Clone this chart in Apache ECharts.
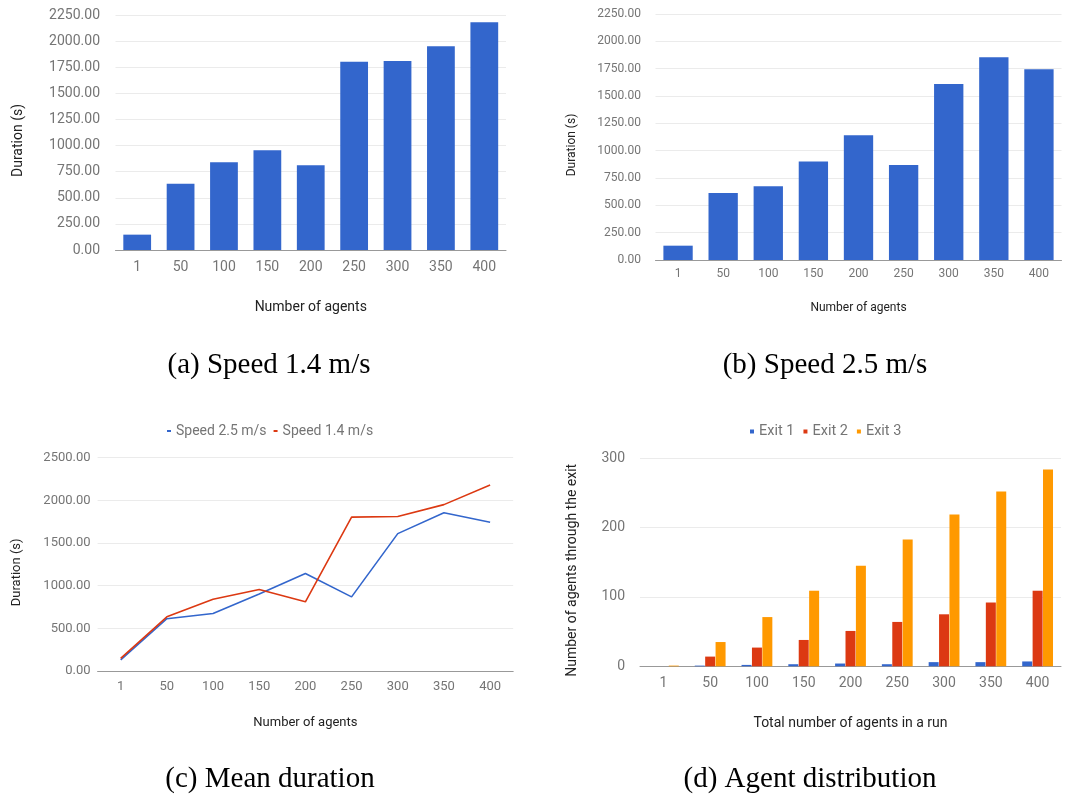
<!DOCTYPE html>
<html>
<head>
<meta charset="utf-8">
<script src="https://cdn.jsdelivr.net/npm/echarts@6/dist/echarts.min.js"></script>
<style>
  html, body { margin: 0; padding: 0; background: #fff; }
  #chart { width: 1080px; height: 795px; }
</style>
</head>
<body>
<div id="chart"></div>
<script>
// Number of agents per run
const categories = ['1', '50', '100', '150', '200', '250', '300', '350', '400'];

// Mean evacuation duration (s) per walking speed
const speed14 = [147, 635, 840, 955, 811, 1803, 1810, 1950, 2180];
const speed25 = [131, 613, 674, 902, 1142, 869, 1610, 1854, 1744];

// Agents leaving through each exit
const exit1 = [0, 1, 2, 3, 4, 3, 6, 6, 7];
const exit2 = [0, 14, 27, 38, 51, 64, 75, 92, 109];
const exit3 = [1, 35, 71, 109, 145, 183, 219, 252, 284];

const captions = ['(a) Speed 1.4 m/s', '(b) Speed 2.5 m/s', '(c) Mean duration', '(d) Agent distribution'];

const BLUE = '#3366cc', RED = '#dc3912', ORANGE = '#ff9900';
const TICK = '#757575', NAME = '#222222', GRID = '#ebebeb', BASE = '#999999';
const SANS = 'Roboto, "Noto Sans", sans-serif';

function xAxisFor(grid, fs, margin, nameGap, name) {
  return {
    type: 'category', gridIndex: grid, data: categories,
    axisTick: { show: false },
    axisLine: { lineStyle: { color: BASE, width: 1 } },
    axisLabel: { color: TICK, fontSize: fs, fontFamily: SANS, margin: margin },
    name: name, nameLocation: 'middle', nameGap: nameGap,
    nameTextStyle: { color: NAME, fontSize: fs, fontFamily: SANS }
  };
}
function yAxisFor(grid, fs, max, interval, margin, nameGap, name, decimals) {
  return {
    type: 'value', gridIndex: grid, min: 0, max: max, interval: interval,
    axisLine: { show: false }, axisTick: { show: false },
    splitLine: { lineStyle: { color: GRID, width: 1 } },
    axisLabel: { color: TICK, fontSize: fs, fontFamily: SANS, margin: margin,
      formatter: v => v.toFixed(decimals) },
    name: name, nameLocation: 'middle', nameGap: nameGap, nameRotate: 90,
    nameTextStyle: { color: NAME, fontSize: fs, fontFamily: SANS, padding: [0, 16, 0, 0] }
  };
}

const chart = echarts.init(document.getElementById('chart'), null, { renderer: 'canvas' });

const option = {
  animation: false,
  backgroundColor: '#ffffff',
  grid: [
    { left: 115.5, top: 15, width: 390.5, height: 235 },
    { left: 655.5, top: 14, width: 406, height: 246 },
    { left: 97.6, top: 457.7, width: 415.6, height: 213.3 },
    { left: 640, top: 458.3, width: 421, height: 208 }
  ],
  xAxis: [
    xAxisFor(0, 14, 10, 50, 'Number of agents'),
    xAxisFor(1, 12, 8, 42, 'Number of agents'),
    xAxisFor(2, 13, 9, 45, 'Number of agents'),
    xAxisFor(3, 14, 10, 50, 'Total number of agents in a run')
  ],
  yAxis: [
    yAxisFor(0, 14, 2250, 250, 15.5, 90, 'Duration (s)', 2),
    yAxisFor(1, 12, 2250, 250, 14.5, 77.5, 'Duration (s)', 2),
    yAxisFor(2, 13, 2500, 500, 7, 74.6, 'Duration (s)', 2),
    yAxisFor(3, 14, 300, 100, 15, 61, 'Number of agents through the exit', 0)
  ],
  legend: [
    {
      data: ['Speed 2.5 m/s', 'Speed 1.4 m/s'],
      left: 162, top: 419, orient: 'horizontal',
      icon: 'rect', itemWidth: 4, itemHeight: 2, itemGap: 7,
      textStyle: { color: TICK, fontSize: 14, fontFamily: SANS }
    },
    {
      data: ['Exit 1', 'Exit 2', 'Exit 3'],
      left: 745, top: 419, orient: 'horizontal',
      icon: 'rect', itemWidth: 4, itemHeight: 4, itemGap: 9,
      textStyle: { color: TICK, fontSize: 14.5, fontFamily: SANS }
    }
  ],
  series: [
    { name: 'Speed 1.4 m/s (bars)', type: 'bar', xAxisIndex: 0, yAxisIndex: 0,
      data: speed14, barWidth: '64%', itemStyle: { color: BLUE } },
    { name: 'Speed 2.5 m/s (bars)', type: 'bar', xAxisIndex: 1, yAxisIndex: 1,
      data: speed25, barWidth: '65%', itemStyle: { color: BLUE } },
    { name: 'Speed 2.5 m/s', type: 'line', xAxisIndex: 2, yAxisIndex: 2,
      data: speed25, showSymbol: false, symbol: 'none',
      lineStyle: { color: BLUE, width: 1.6 }, itemStyle: { color: BLUE } },
    { name: 'Speed 1.4 m/s', type: 'line', xAxisIndex: 2, yAxisIndex: 2,
      data: speed14, showSymbol: false, symbol: 'none',
      lineStyle: { color: RED, width: 1.6 }, itemStyle: { color: RED } },
    { name: 'Exit 1', type: 'bar', xAxisIndex: 3, yAxisIndex: 3,
      data: exit1, barWidth: 10, barGap: '4%', itemStyle: { color: BLUE } },
    { name: 'Exit 2', type: 'bar', xAxisIndex: 3, yAxisIndex: 3,
      data: exit2, barWidth: 10, barGap: '4%', itemStyle: { color: RED } },
    { name: 'Exit 3', type: 'bar', xAxisIndex: 3, yAxisIndex: 3,
      data: exit3, barWidth: 10, barGap: '4%', itemStyle: { color: ORANGE } }
  ],
  graphic: [
    { x: 269, y: 365, text: captions[0] },
    { x: 825, y: 365, text: captions[1] },
    { x: 270, y: 779, text: captions[2] },
    { x: 810, y: 779, text: captions[3] }
  ].map(c => ({
    type: 'text', x: c.x, y: c.y,
    style: { text: c.text, fill: '#000', font: '29px "Liberation Serif", "Times New Roman", serif',
      textAlign: 'center', textVerticalAlign: 'middle' }
  }))
};

chart.setOption(option);
</script>
</body>
</html>
